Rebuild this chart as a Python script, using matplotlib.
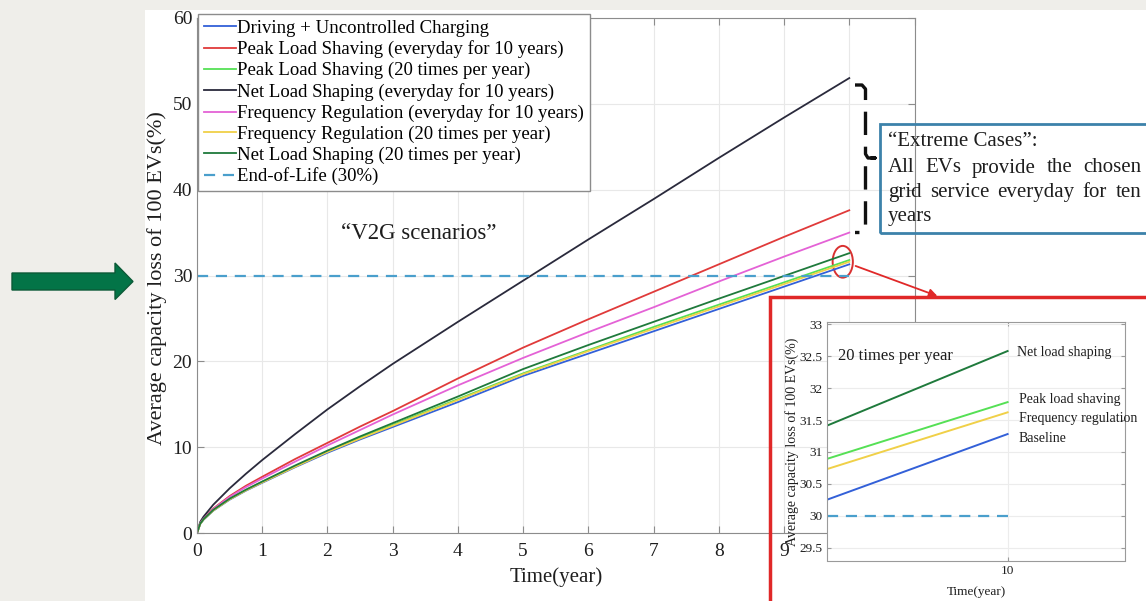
import matplotlib

matplotlib.use("Agg")
import matplotlib.pyplot as plt
from matplotlib.lines import Line2D
from matplotlib.patches import Ellipse, Polygon, Rectangle

plt.rcParams["font.family"] = ["Liberation Serif", "DejaVu Serif"]

# main chart data
years = [0, 0.05, 0.1, 0.25, 0.5, 0.75, 1, 1.5, 2, 2.5, 3, 4, 5, 6, 7, 8, 9, 10]
baseline = [0, 1.05, 1.55, 2.6, 3.88, 4.93, 5.85, 7.65, 9.35, 10.9, 12.35, 15.25, 18.3, 20.9, 23.5, 26.1, 28.7, 31.3]
peak_everyday = [0, 1.15, 1.7, 2.85, 4.3, 5.5, 6.55, 8.6, 10.5, 12.4, 14.2, 18.0, 21.6, 24.9, 28.1, 31.3, 34.5, 37.6]
peak_20 = [0, 1.08, 1.58, 2.65, 3.95, 5.0, 5.95, 7.75, 9.5, 11.1, 12.6, 15.6, 18.6, 21.3, 24.0, 26.6, 29.2, 31.8]
net_everyday = [0, 1.3, 1.9, 3.3, 5.2, 6.9, 8.5, 11.5, 14.4, 17.1, 19.7, 24.6, 29.4, 34.2, 38.9, 43.7, 48.4, 53.0]
freq_everyday = [0, 1.15, 1.65, 2.8, 4.2, 5.35, 6.35, 8.3, 10.2, 12.0, 13.8, 17.2, 20.4, 23.4, 26.3, 29.3, 32.2, 35.0]
freq_20 = [0, 1.07, 1.57, 2.63, 3.92, 4.97, 5.9, 7.7, 9.45, 11.0, 12.5, 15.5, 18.5, 21.2, 23.8, 26.4, 29.0, 31.6]
net_20 = [0, 1.1, 1.6, 2.7, 4.0, 5.05, 6.0, 7.85, 9.6, 11.25, 12.8, 15.9, 19.1, 21.9, 24.6, 27.3, 29.95, 32.6]
eol_years = [0, 10]
eol_level = [30, 30]

labels = [
    "Driving + Uncontrolled Charging",
    "Peak Load Shaving (everyday for 10 years)",
    "Peak Load Shaving (20 times per year)",
    "Net Load Shaping (everyday for 10 years)",
    "Frequency Regulation (everyday for 10 years)",
    "Frequency Regulation (20 times per year)",
    "Net Load Shaping (20 times per year)",
    "End-of-Life (30%)",
]
colors = ["#3360d8", "#e03a3a", "#55e055", "#2a2a3c", "#e462d6", "#f0d048", "#1f7a3c", "#4a9fcc"]

# inset data (zoom around year 10)
inset_years = [9.6, 10]
inset_net = [31.41, 32.58]
inset_peak = [30.89, 31.78]
inset_freq = [30.73, 31.62]
inset_base = [30.25, 31.28]
inset_eol = [30, 30]
inset_labels = ["Net load shaping", "Peak load shaving", "Frequency regulation", "Baseline"]

box_lines = [
    ["\u201cExtreme Cases\u201d:"],
    ["All", "EVs", "provide", "the", "chosen"],
    ["grid", "service", "everyday", "for", "ten"],
    ["years"],
]

W, H = 1146, 601


def fx(px):
    return px / W


def fy(py):
    return 1 - py / H


fig = plt.figure(figsize=(W / 100, H / 100), dpi=100, facecolor="#efeeea")
fig.add_artist(Rectangle((fx(145), 0), 1, fy(10), transform=fig.transFigure,
                         facecolor="white", edgecolor="none", zorder=-5))

ax = fig.add_axes([fx(197), fy(533), (914.5 - 197) / W, (533 - 18) / H])
series = [baseline, peak_everyday, peak_20, net_everyday, freq_everyday, freq_20, net_20]
for vals, lab, col in zip(series, labels[:-1], colors[:-1]):
    ax.plot(years, vals, color=col, lw=1.3, label=lab)
ax.plot(eol_years, eol_level, color=colors[-1], lw=1.6, ls=(0, (5, 3.5)), label=labels[-1])

ax.set_xlim(0, 11)
ax.set_ylim(0, 60)
ax.set_xticks(range(0, 12))
ax.set_yticks(range(0, 61, 10))
ax.grid(True, color="#e8e8e8", lw=0.8)
ax.set_axisbelow(True)
for s in ax.spines.values():
    s.set_color("#8c8c8c")
ax.tick_params(direction="in", top=True, right=True, length=5, color="#8c8c8c",
               labelsize=14, labelcolor="#1e1e1e")
ax.tick_params(axis="x", pad=7)
ax.set_xlabel("Time(year)", fontsize=15, color="#1e1e1e")
ax.set_ylabel("Average capacity loss of 100 EVs(%)", fontsize=16, color="#1e1e1e")
ax.xaxis.label.set_va("center")
ax.yaxis.label.set_va("center")
ax.xaxis.set_label_coords(0.5, -(577 - 533) / 515)
ax.yaxis.set_label_coords((157 - 197) / 717.5, 0.495)

leg = ax.legend(loc="upper left", bbox_to_anchor=(fx(198), fy(14)),
                bbox_transform=fig.transFigure, borderaxespad=0, fontsize=13.5,
                frameon=True, fancybox=False, framealpha=1, edgecolor="#8c8c8c",
                handlelength=1.7, handletextpad=0.1, labelspacing=0.19, borderpad=0.3)
leg.get_frame().set_linewidth(1.0)

ax.text(3.4, 34.95, "\u201cV2G scenarios\u201d", fontsize=16.5, ha="center", va="center",
        color="#1e1e1e")

# red ellipse at the year-10 cluster
ax.add_patch(Ellipse((9.9, 31.6), 0.31, 3.7, fill=False, edgecolor="#d93030", lw=1.4,
                     clip_on=False))

# dashed bracket for extreme cases
bx = [855, 862, 865.5, 865.5, 868, 875, 868, 865.5, 865.5, 862, 855]
by = [85, 85, 89, 154, 158, 158, 158, 162, 228, 232.5, 232.5]
fig.add_artist(Line2D([fx(v) for v in bx], [fy(v) for v in by], transform=fig.transFigure,
                      color="#111111", lw=2.4, ls=(0, (7, 3.5)), zorder=3))

# "Extreme Cases" box (transparent, the axes spine shows through)
fig.add_artist(Rectangle((fx(880), fy(233)), fx(300), (233 - 124) / H, transform=fig.transFigure,
                         facecolor="none", edgecolor="#3c82aa", lw=2, zorder=3))
renderer = fig.canvas.get_renderer()
line_y = [142, 168, 193, 216]
x_left, x_right = 888, 1141
for words, yy in zip(box_lines, line_y):
    texts = [fig.text(fx(x_left), fy(yy), w, fontsize=15, ha="left", va="center",
                      color="#1e1e1e", zorder=4) for w in words]
    if len(texts) > 1:
        widths = [t.get_window_extent(renderer).width for t in texts]
        gap = (x_right - x_left - sum(widths)) / (len(texts) - 1)
        pos = x_left
        for t, wd in zip(texts, widths):
            t.set_x(fx(pos))
            pos += wd + gap

# red inset frame and arrow
fig.add_artist(Rectangle((fx(770), -0.05), fx(500), fy(297) + 0.05, transform=fig.transFigure,
                         fill=False, edgecolor="#e02828", lw=2.5, zorder=3))
ax.annotate("", xy=(940, H - 297), xycoords="figure pixels", xytext=(853, H - 265),
            textcoords="figure pixels",
            arrowprops=dict(arrowstyle="-|>", color="#e02828", lw=1.3, mutation_scale=12),
            annotation_clip=False)

# green arrow on the left pointing at the 30% mark
arrow_px = [(12, 273), (115, 273), (115, 263), (133, 281.5), (115, 299.5), (115, 290), (12, 290)]
fig.add_artist(Polygon([(fx(a), fy(b)) for a, b in arrow_px], closed=True,
                       transform=fig.transFigure, facecolor="#037447", edgecolor="#0b5a37",
                       lw=1, zorder=3))

# inset axes
ins = fig.add_axes([fx(826.7), fy(560.5), 298.5 / W, (560.5 - 322.3) / H], zorder=5)
ins.set_facecolor("white")
ins.plot(inset_years, inset_net, color=colors[6], lw=1.4)
ins.plot(inset_years, inset_peak, color=colors[2], lw=1.4)
ins.plot(inset_years, inset_freq, color=colors[5], lw=1.4)
ins.plot(inset_years, inset_base, color=colors[0], lw=1.4)
ins.plot(inset_years, inset_eol, color=colors[7], lw=1.6, ls=(0, (5, 3.5)))
ins.set_xlim(9.6, 10.26)
ins.set_ylim(29.3, 33.03)
ins.set_xticks([10])
ins.set_yticks([29.5, 30, 30.5, 31, 31.5, 32, 32.5, 33])
ins.set_yticklabels(["29.5", "30", "30.5", "31", "31.5", "32", "32.5", "33"])
ins.grid(True, color="#ececec", lw=0.8)
ins.set_axisbelow(True)
for s in ins.spines.values():
    s.set_color("#9a9a9a")
ins.tick_params(direction="in", top=True, right=True, length=3, color="#9a9a9a",
                labelsize=9.5, labelcolor="#1e1e1e", pad=3)
ins.set_xlabel("Time(year)", fontsize=9.5, color="#1e1e1e")
ins.set_ylabel("Average capacity loss of 100 EVs(%)", fontsize=10, color="#1e1e1e")
ins.xaxis.label.set_va("center")
ins.yaxis.label.set_va("center")
ins.xaxis.set_label_coords(0.5, -(591.5 - 560.5) / 238.2)
ins.yaxis.set_label_coords(-0.117, 0.5)
ins.text(0.037, 0.86, "20 times per year", transform=ins.transAxes, fontsize=12,
         ha="left", va="center", color="#1e1e1e")
for lab, yy in zip(inset_labels, [0.872, 0.678, 0.598, 0.514]):
    ins.text(0.638 if yy > 0.8 else 0.644, yy, lab, transform=ins.transAxes, fontsize=10,
             ha="left", va="center", color="#1e1e1e", clip_on=False)

fig.savefig("out.png", dpi=100, facecolor=fig.get_facecolor())
